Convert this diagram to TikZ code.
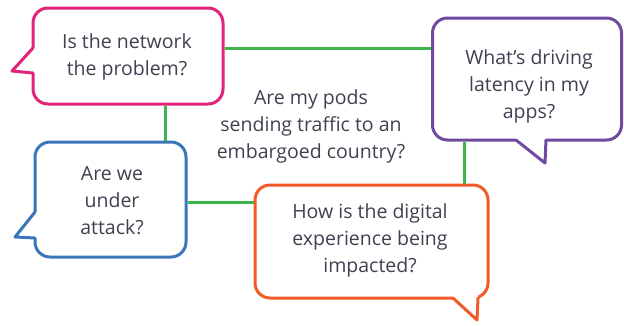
\documentclass[tikz,border=0pt]{standalone}
\usepackage{fontspec}
\setmainfont{Open Sans}
\definecolor{pinkc}{HTML}{E2237A}
\definecolor{purplec}{HTML}{6F4AA0}
\definecolor{bluec}{HTML}{3B76BA}
\definecolor{orangec}{HTML}{F15A29}
\definecolor{greenc}{HTML}{3CB64A}
\definecolor{textc}{HTML}{3F4150}
\begin{document}
\begin{tikzpicture}[x=1pt,y=-1pt,
  bubble/.style={draw, line width=3pt, rounded corners=15pt, fill=white, inner sep=0pt},
  tailline/.style={line width=3pt, line join=round, line cap=round},
  qtext/.style={align=center, text=textc, font=\fontsize{19.5}{27}\selectfont, inner sep=0pt},
  link/.style={draw=greenc, line width=3pt}]
\useasboundingbox (0,0) rectangle (624,325);
\node[bubble, draw=pinkc, minimum width=190pt, minimum height=96pt] (net) at (128,56) {};
\node[bubble, draw=purplec, minimum width=189pt, minimum height=122pt] (lat) at (527,79) {};
\node[bubble, draw=bluec, minimum width=151pt, minimum height=115pt] (atk) at (110.5,199.5) {};
\node[bubble, draw=orangec, minimum width=233pt, minimum height=113pt] (dex) at (371.5,241.5) {};
\draw[link] (net.east |- 0,48) -- (lat.west |- 0,48);
\draw[link] (net.south -| 165,0) -- (atk.north -| 165,0);
\draw[link] (atk.east |- 0,202) -- (dex.west |- 0,202);
\draw[link] (lat.south -| 464,0) -- (dex.north -| 464,0);
% tails
\fill[white] (36,48) -- (33,48) -- (12,71) -- (33,73) -- (36,73) -- cycle;
\draw[tailline, pinkc] (33,48) -- (12,71) -- (33,73);
\fill[white] (516,137) -- (516,140) -- (545,163) -- (546,140) -- (546,137) -- cycle;
\draw[tailline, purplec] (516,140) -- (545,163) -- (546,140);
\fill[white] (38,212) -- (35,212) -- (15,237) -- (35,238) -- (38,238) -- cycle;
\draw[tailline, bluec] (35,212) -- (15,237) -- (35,238);
\fill[white] (453,295) -- (453,298) -- (477,320) -- (478,298) -- (478,295) -- cycle;
\draw[tailline, orangec] (453,298) -- (477,320) -- (478,298);
% texts
\node[qtext] (nett) at (127,57) {Is the network\\the problem?};
\node[qtext] (latt) at (529,86) {What’s driving\\latency in my\\apps?};
\node[qtext] (atkt) at (112,201) {Are we\\under\\attack?};
\node[qtext] (dext) at (370,240) {How is the digital\\experience being\\impacted?};
\node[qtext] (podt) at (311,126) {Are my pods\\sending traffic to an\\embargoed country?};
\end{tikzpicture}
\end{document}
